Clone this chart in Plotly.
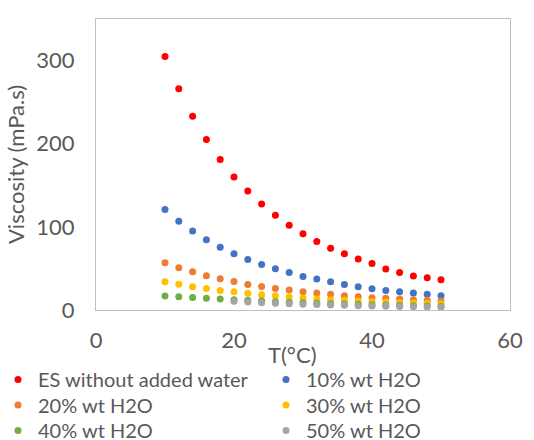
import plotly.graph_objects as go

T_all = [10, 12, 14, 16, 18, 20, 22, 24, 26, 28, 30, 32, 34, 36, 38, 40, 42, 44, 46, 48, 50]
T_50 = [20, 22, 24, 26, 28, 30, 32, 34, 36, 38, 40, 42, 44, 46, 48, 50]

es_pure = [305, 266, 233, 205, 181, 160, 143, 127.6, 114, 102, 91.6, 82.4, 74.4, 67.6, 61.2, 56, 49.2, 45.2, 40.8, 38.8, 36.4]
h2o_10 = [121, 106.8, 95, 84.4, 75.6, 67.6, 60.8, 54.8, 49.6, 45.2, 40.4, 37.2, 34, 30.8, 28, 25.6, 23.6, 22, 20.4, 18.8, 17.2]
h2o_20 = [56.8, 50.8, 46, 41.2, 37.6, 34.4, 30.8, 28.4, 26, 24, 22, 20.4, 18.8, 17.2, 16, 14.8, 14, 13.2, 12.4, 11.6, 10.8]
h2o_30 = [34, 31, 28, 26, 23.6, 22, 20, 18.4, 16.8, 15.6, 14.4, 13.2, 12.4, 11.6, 10.8, 10, 9.6, 8.8, 8.4, 8, 7.6]
h2o_40 = [16.8, 16, 15, 14, 13.2, 12.4, 11.6, 10.8, 10, 9.4, 8.8, 8.2, 7.6, 7.2, 6.8, 6.4, 6, 5.6, 5.2, 4.8, 4.5]
h2o_50 = [10.4, 9.6, 8.8, 8.2, 7.6, 7, 6.5, 6, 5.6, 5.2, 4.8, 4.5, 4.2, 3.9, 3.6, 3.4]

series = [
    ("ES without added water", T_all, es_pure, "#FF0000"),
    ("10% wt H2O", T_all, h2o_10, "#4472C4"),
    ("20% wt H2O", T_all, h2o_20, "#ED7D31"),
    ("30% wt H2O", T_all, h2o_30, "#FFC000"),
    ("40% wt H2O", T_all, h2o_40, "#70AD47"),
    ("50% wt H2O", T_50, h2o_50, "#A5A5A5"),
]

FONT = "Lato"
TXT = "#595959"

# plot area geometry in pixels (for placing legend entries)
L, R, T, B, W, H = 96, 24, 19, 130, 534, 440
PW, PH = W - L - R, H - T - B
col_px = [-2, 266]            # legend entry left edge per column
row_px = [380, 405.5, 431]    # legend entry centre per row

fig = go.Figure()
legends = {}
for i, (name, x, y, c) in enumerate(series):
    key = "legend" if i == 0 else f"legend{i + 1}"
    fig.add_trace(go.Scatter(x=x, y=y, mode="markers", name=name, legend=key,
                             marker=dict(color=c, size=7, line=dict(width=0))))
    col, row = i % 2, i // 2
    legends[key] = dict(
        orientation="h", xanchor="left", yanchor="top",
        x=(col_px[col] - L) / PW, y=(PH + T - (row_px[row] - 20)) / PH - 1 + 0,
        font=dict(family=FONT, size=20, color=TXT),
        itemwidth=30, bgcolor="rgba(0,0,0,0)")

# fix y: paper y = (bottom_px - top_px)/PH with bottom_px = T+PH
for i, key in enumerate(legends):
    row = i // 2
    legends[key]["y"] = ((T + PH) - (row_px[row] - 20)) / PH

fig.update_layout(
    width=W, height=H,
    margin=dict(l=L, r=R, t=T, b=B, autoexpand=False),
    paper_bgcolor="white", plot_bgcolor="white",
    font=dict(family=FONT, size=20, color=TXT),
    showlegend=True,
    xaxis=dict(range=[0, 60], tickvals=[0, 20, 40, 60], showgrid=False, zeroline=False,
               showline=True, linecolor="#BFBFBF", linewidth=1, mirror=True,
               ticks="", ticklabelstandoff=11, tickfont=dict(size=22, color=TXT)),
    yaxis=dict(range=[0, 350], tickvals=[0, 100, 200, 300], showgrid=False, zeroline=False,
               showline=True, linecolor="#BFBFBF", linewidth=1, mirror=True,
               ticks="", ticklabelstandoff=16, tickfont=dict(size=22, color=TXT),
               title=dict(text="Viscosity (mPa.s)", standoff=5, font=dict(size=22, color=TXT))),
    annotations=[dict(text="T(°C)", xref="paper", yref="paper", x=0.475, y=-45 / PH,
                      xanchor="center", yanchor="middle", showarrow=False,
                      font=dict(family=FONT, size=22, color=TXT))],
    **legends,
)

fig.write_html("out.html")
